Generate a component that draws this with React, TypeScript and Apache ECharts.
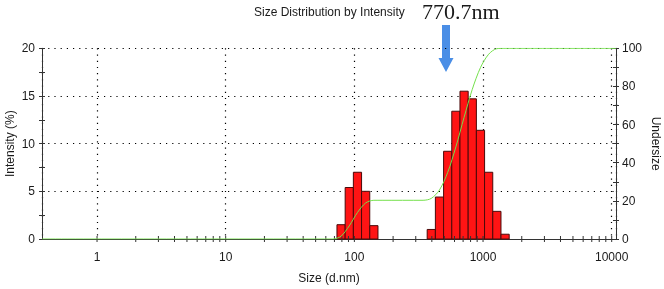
import React, { useEffect, useRef } from "react";
import * as echarts from "echarts";

// Size classes (bin centres, d.nm) of the plotted bars and their intensity (%)
const BIN_CENTERS = [78.82, 91.28, 105.7, 122.4, 141.8, 396.1, 458.7, 531.2, 615.1, 712.4, 825.0, 955.4, 1106, 1281, 1484];
const INTENSITY = [1.5, 5.4, 7.0, 5.0, 1.4, 1.0, 4.4, 9.2, 13.4, 15.5, 14.7, 11.4, 7.0, 2.9, 0.5];
const BIN_RATIO = 1.1581; // ratio between neighbouring size classes

// Undersize (cumulative %) curve
const UNDERSIZE_SIZES = [0.3735, 68.06, 78.82, 91.28, 105.7, 122.4, 141.8, 164.2, 342.0, 396.1, 458.7, 531.2, 615.1, 712.4, 825.0, 955.4, 1106, 1281, 1484, 1718, 10800];
const UNDERSIZE = [0, 0, 1.5, 6.9, 13.9, 18.9, 20.3, 20.3, 20.3, 21.3, 25.7, 34.9, 48.3, 63.8, 78.5, 89.9, 96.9, 99.8, 100, 100, 100];

// Axes
const X_MIN = 0.3735;
const X_MAX = 10800;
const X_DECADES = [1, 10, 100, 1000, 10000];
const X_MINOR_MULT = [2, 3, 4, 5, 6, 7, 8, 9];

const TITLE = "Size Distribution by Intensity";
const Z_AVERAGE = "770.7nm";

const FONT = '"Liberation Sans", Arial, sans-serif';
const AXIS_COLOR = "#333";
const TEXT_COLOR = "#1a1a1a";
const GRID_LINE = { type: [1.2, 5] as number[], color: "#000", width: 1.2 };

export default function App() {
  const ref = useRef<HTMLDivElement>(null);

  useEffect(() => {
    if (!ref.current) return;
    const chart = echarts.init(ref.current, undefined, { renderer: "svg" });

    const half = Math.sqrt(BIN_RATIO);
    const barData = BIN_CENTERS.map((c, i) => [c / half, c * half, INTENSITY[i]]);
    const tickValues: number[] = [];
    X_DECADES.forEach((d) => {
      tickValues.push(d);
      if (d < 10000) X_MINOR_MULT.forEach((m) => tickValues.push(d * m));
    });

    const leftBase = { type: "value" as const, min: 0, max: 20, interval: 5, position: "left" as const };
    const rightBase = { type: "value" as const, min: 0, max: 100, interval: 20, position: "right" as const };
    const tickStyle = { color: AXIS_COLOR, width: 1 };

    chart.setOption({
      animation: false,
      textStyle: { fontFamily: FONT },
      grid: { left: 42, right: 48, top: 48.3, bottom: 50, containLabel: false, outerBoundsMode: "none" },
      xAxis: {
        type: "log",
        logBase: 10,
        min: X_MIN,
        max: X_MAX,
        axisLine: { show: true, onZero: false, lineStyle: { color: AXIS_COLOR, width: 1 } },
        axisTick: { show: false },
        minorTick: { show: false },
        axisLabel: {
          margin: 12,
          fontSize: 12,
          color: TEXT_COLOR,
          fontFamily: FONT,
          formatter: (v: number) => {
            const e = Math.log10(v);
            if (Math.abs(e - Math.round(e)) > 0.01) return "";
            return String(Math.round(v));
          },
        },
        splitLine: { show: true, lineStyle: GRID_LINE },
        name: "Size (d.nm)",
        nameLocation: "middle",
        nameGap: 33,
        nameMoveOverlap: false,
        nameTextStyle: { fontSize: 12, color: TEXT_COLOR, fontFamily: FONT },
      },
      yAxis: [
        {
          ...leftBase,
          axisLine: { show: true, lineStyle: { color: AXIS_COLOR, width: 1 } },
          axisTick: { show: true, length: 3, lineStyle: tickStyle },
          minorTick: { show: true, splitNumber: 2, length: 3, lineStyle: tickStyle },
          axisLabel: { margin: 7, fontSize: 12, color: TEXT_COLOR, fontFamily: FONT },
          splitLine: { show: true, lineStyle: GRID_LINE },
          name: "Intensity (%)",
          nameLocation: "middle",
          nameGap: 26,
          nameRotate: 90,
          nameMoveOverlap: false,
          nameTextStyle: { fontSize: 12, color: TEXT_COLOR, fontFamily: FONT },
        },
        {
          ...leftBase,
          axisLine: { show: false },
          axisTick: { show: true, inside: true, length: 3, lineStyle: tickStyle },
          minorTick: { show: true, splitNumber: 2, length: 3, lineStyle: tickStyle },
          axisLabel: { show: false },
          splitLine: { show: false },
        },
        {
          ...rightBase,
          axisLine: { show: true, lineStyle: { color: AXIS_COLOR, width: 1 } },
          axisTick: { show: true, length: 3, lineStyle: tickStyle },
          minorTick: { show: true, splitNumber: 2, length: 3, lineStyle: tickStyle },
          axisLabel: { margin: 6, fontSize: 12, color: TEXT_COLOR, fontFamily: FONT },
          splitLine: { show: false },
          name: "Undersize",
          nameLocation: "middle",
          nameGap: 34,
          nameRotate: -90,
          nameMoveOverlap: false,
          nameTextStyle: { fontSize: 12, color: TEXT_COLOR, fontFamily: FONT },
        },
        {
          ...rightBase,
          axisLine: { show: false },
          axisTick: { show: true, inside: true, length: 3, lineStyle: tickStyle },
          minorTick: { show: true, splitNumber: 2, length: 3, lineStyle: tickStyle },
          axisLabel: { show: false },
          splitLine: { show: false },
        },
      ],
      series: [
        {
          type: "custom",
          name: "Intensity",
          xAxisIndex: 0,
          yAxisIndex: 0,
          data: barData,
          encode: { x: [0, 1], y: 2 },
          z: 3,
          renderItem: (_p: any, api: any) => {
            const p0 = api.coord([api.value(0), 0]);
            const p1 = api.coord([api.value(1), api.value(2)]);
            return {
              type: "rect",
              shape: { x: p0[0], y: p1[1], width: p1[0] - p0[0], height: p0[1] - p1[1] },
              style: { fill: "#ff1414", stroke: "#4a0a0a", lineWidth: 1 },
            };
          },
        },
        {
          type: "custom",
          name: "ticks",
          xAxisIndex: 0,
          yAxisIndex: 0,
          data: tickValues.map((v) => [v, 0]),
          encode: { x: 0, y: 1 },
          clip: false,
          silent: true,
          z: 4,
          renderItem: (_p: any, api: any) => {
            const p = api.coord([api.value(0), 0]);
            return {
              type: "line",
              shape: { x1: p[0], y1: p[1] - 3, x2: p[0], y2: p[1] + 3 },
              style: { stroke: AXIS_COLOR, lineWidth: 1 },
            };
          },
        },
        {
          type: "line",
          name: "Undersize",
          xAxisIndex: 0,
          yAxisIndex: 2,
          data: UNDERSIZE_SIZES.map((s, i) => [s, UNDERSIZE[i]]),
          showSymbol: false,
          symbol: "none",
          smooth: 0.3,
          z: 5,
          lineStyle: { color: "#74e04c", width: 1 },
        },
      ],
      graphic: [
        {
          type: "text",
          x: 254,
          y: 12,
          style: {
            text: TITLE,
            font: `12px ${FONT}`,
            fill: TEXT_COLOR,
            textAlign: "left",
            textVerticalAlign: "middle",
          },
        },
        {
          type: "text",
          x: 422,
          y: 11.5,
          style: {
            text: Z_AVERAGE,
            font: '22px "Liberation Serif", "Times New Roman", serif',
            fill: TEXT_COLOR,
            textAlign: "left",
            textVerticalAlign: "middle",
          },
        },
        {
          type: "polygon",
          shape: {
            points: [
              [442, 25],
              [450, 25],
              [450, 58],
              [453.5, 58],
              [446, 72],
              [438.5, 58],
              [442, 58],
            ],
          },
          style: { fill: "#4a8ee6" },
        },
      ],
    });

    return () => chart.dispose();
  }, []);

  return <div ref={ref} style={{ position: "fixed", left: 0, top: 0, width: 664, height: 289 }} />;
}
